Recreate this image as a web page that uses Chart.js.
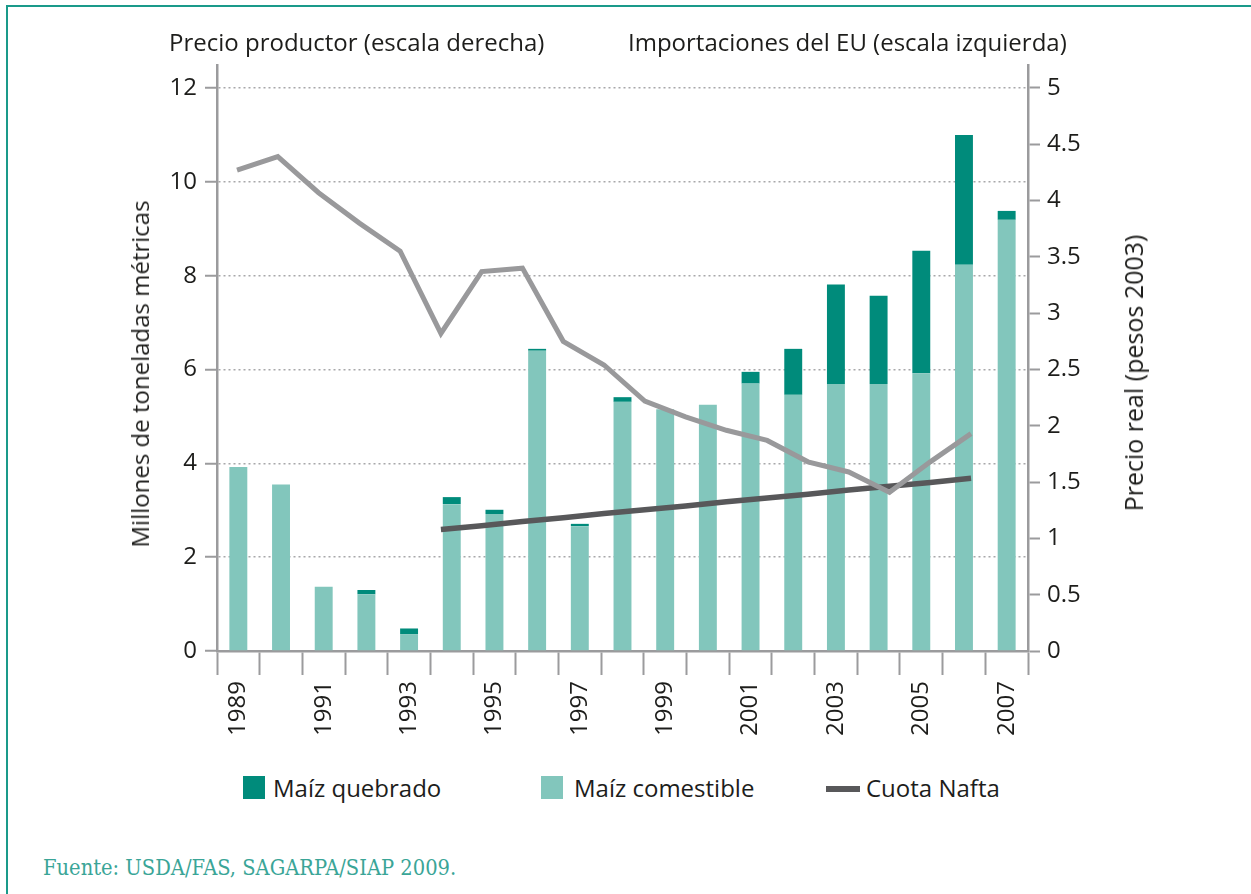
<!DOCTYPE html>
<html>
<head>
<meta charset="utf-8">
<script src="https://cdn.jsdelivr.net/npm/chart.js@4.4.1/dist/chart.umd.min.js"></script>
<style>
  html, body { margin: 0; padding: 0; background: #fff; }
  body { width: 1251px; height: 894px; position: relative; overflow: hidden; font-family: "Open Sans", sans-serif; color: #1d1d1b; }
  #frame { position: absolute; left: 6px; top: 5px; right: -10px; bottom: -10px; border-top: 2.5px solid #1a9a8a; border-left: 2.5px solid #1a9a8a; }
  #wrap { position: absolute; left: 0; top: 0; width: 1251px; height: 760px; }
  .txt { position: absolute; font-size: 24px; line-height: 28px; white-space: nowrap; }
  .sw { position: absolute; }
  .rot { position: absolute; font-size: 24px; line-height: 28px; white-space: nowrap; transform: translate(-50%, -50%) rotate(-90deg); }
  #source { position: absolute; left: 43px; top: 855px; font-family: "DejaVu Serif", serif; font-stretch: condensed; font-size: 21.7px; color: #3aa597; white-space: nowrap; }
</style>
</head>
<body>
<div id="frame"></div>
<div id="wrap"><canvas id="chart" width="1251" height="760"></canvas></div>

<div class="txt" style="left:169px; top:28px;">Precio productor (escala derecha)</div>
<div class="txt" style="left:628px; top:28px;">Importaciones del EU (escala izquierda)</div>
<div class="rot" style="left:140px; top:374px;">Millones de toneladas métricas</div>
<div class="rot" style="left:1133px; top:373px; font-size:25px;">Precio real (pesos 2003)</div>

<div class="sw" style="left:243px; top:776px; width:22px; height:23px; background:#008b7b;"></div>
<div class="txt" style="left:273px; top:774px;">Maíz quebrado</div>
<div class="sw" style="left:541px; top:776px; width:22px; height:23px; background:#82c6bc;"></div>
<div class="txt" style="left:574px; top:774px;">Maíz comestible</div>
<div class="sw" style="left:826px; top:786px; width:34px; height:6px; background:#58585a;"></div>
<div class="txt" style="left:866px; top:774px;">Cuota Nafta</div>

<div id="source">Fuente: USDA/FAS, SAGARPA/SIAP 2009.</div>

<script>
// Importaciones (millones de toneladas)
const years = ['1989', '1990', '1991', '1992', '1993', '1994', '1995', '1996', '1997', '1998',
               '1999', '2000', '2001', '2002', '2003', '2004', '2005', '2006', '2007'];
const comestible = [3.92, 3.55, 1.37, 1.21, 0.36, 3.13, 2.92, 6.40, 2.66, 5.31,
                    5.15, 5.25, 5.70, 5.46, 5.69, 5.69, 5.92, 8.23, 9.19];
const quebrado = [0, 0, 0, 0.09, 0.12, 0.15, 0.09, 0.04, 0.05, 0.10,
                  0, 0, 0.25, 0.98, 2.12, 1.88, 2.61, 2.77, 0.19];

// Precio productor (pesos 2003), escala derecha
const priceYears = [1989, 1990, 1991, 1992, 1993, 1994, 1995, 1996, 1997, 1998,
                    1999, 2000, 2001, 2002, 2003, 2004, 2005, 2006, 2007];
const price = [4.27, 4.39, 4.07, 3.80, 3.55, 2.82, 3.37, 3.40, 2.75, 2.54,
               2.22, 2.08, 1.96, 1.87, 1.68, 1.59, 1.41, 1.68, 1.93];

// Cuota Nafta (millones de toneladas)
const naftaYears = [1994, 1995, 1996, 1997, 1998, 1999, 2000, 2001, 2002, 2003, 2004, 2005, 2006, 2007];
const nafta = [2.59, 2.67, 2.76, 2.84, 2.93, 3.01, 3.09, 3.18, 3.26, 3.34, 3.43, 3.51, 3.59, 3.68];

const leftTicks = [0, 2, 4, 6, 8, 10, 12];
const rightTicks = [0, 0.5, 1, 1.5, 2, 2.5, 3, 3.5, 4, 4.5, 5];

const axisGray = '#9b9b9d';
const font = { family: 'Open Sans', size: 24 };

new Chart(document.getElementById('chart'), {
    type: 'bar',
    data: {
        labels: years,
        datasets: [
            {
                label: 'Maíz comestible',
                data: comestible,
                backgroundColor: '#82c6bc',
                barPercentage: 0.42,
                categoryPercentage: 1,
                grouped: false,
                stack: 'imp',
                order: 2
            },
            {
                label: 'Maíz quebrado',
                data: quebrado,
                backgroundColor: '#008b7b',
                barPercentage: 0.42,
                categoryPercentage: 1,
                grouped: false,
                stack: 'imp',
                order: 3
            },
            {
                type: 'line',
                label: 'Precio productor',
                data: priceYears.map((y, i) => ({ x: y, y: price[i] })),
                xAxisID: 'xl',
                yAxisID: 'y2',
                borderColor: '#99999b',
                borderWidth: 5,
                pointRadius: 0,
                tension: 0,
                order: 0
            },
            {
                type: 'line',
                label: 'Cuota Nafta',
                data: naftaYears.map((y, i) => ({ x: y, y: nafta[i] })),
                xAxisID: 'xl',
                yAxisID: 'y',
                stack: 'nafta',
                borderColor: '#58585a',
                borderWidth: 5.5,
                pointRadius: 0,
                tension: 0,
                order: 1
            }
        ]
    },
    options: {
        responsive: false,
        animation: false,
        devicePixelRatio: 1,
        layout: { padding: { left: 122, right: 0, top: 65, bottom: 0 } },
        plugins: {
            legend: { display: false },
            tooltip: { enabled: false }
        },
        scales: {
            x: {
                stacked: true,
                offset: true,
                afterFit: s => { s.height = 109; },
                grid: {
                    offset: true,
                    drawOnChartArea: false,
                    tickLength: 24,
                    tickColor: axisGray,
                    tickWidth: 2
                },
                border: { color: axisGray, width: 2.5 },
                ticks: {
                    font: font,
                    color: '#1d1d1b',
                    autoSkip: false,
                    maxRotation: 90,
                    minRotation: 90,
                    padding: 6,
                    callback: (v, i) => (i % 2 === 0 ? years[i] : '')
                }
            },
            xl: {
                type: 'linear',
                display: false,
                offset: false,
                stacked: false,
                min: 1988.509,
                max: 2008.397
            },
            y: {
                stacked: true,
                position: 'left',
                min: 0,
                max: 12.49,
                afterFit: s => { s.width = 95; },
                afterBuildTicks: s => { s.ticks = leftTicks.map(v => ({ value: v })); },
                grid: {
                    color: c => (c.tick && c.tick.value === 0 ? 'rgba(0,0,0,0)' : '#a8a8aa'),
                    lineWidth: 1.5,
                    tickLength: 12,
                    tickColor: axisGray,
                    tickWidth: 2
                },
                border: { color: axisGray, width: 2.5, dash: [2, 3] },
                ticks: { font: font, color: '#1d1d1b', padding: 8 }
            },
            y2: {
                position: 'right',
                min: 0,
                max: 5.204,
                afterFit: s => { s.width = 223; },
                afterBuildTicks: s => { s.ticks = rightTicks.map(v => ({ value: v })); },
                grid: {
                    drawOnChartArea: false,
                    tickLength: 12,
                    tickColor: axisGray,
                    tickWidth: 2
                },
                border: { color: axisGray, width: 2.5 },
                ticks: {
                    font: font,
                    color: '#1d1d1b',
                    padding: 7,
                    callback: v => String(v)
                }
            }
        }
    }
});
</script>
</body>
</html>
